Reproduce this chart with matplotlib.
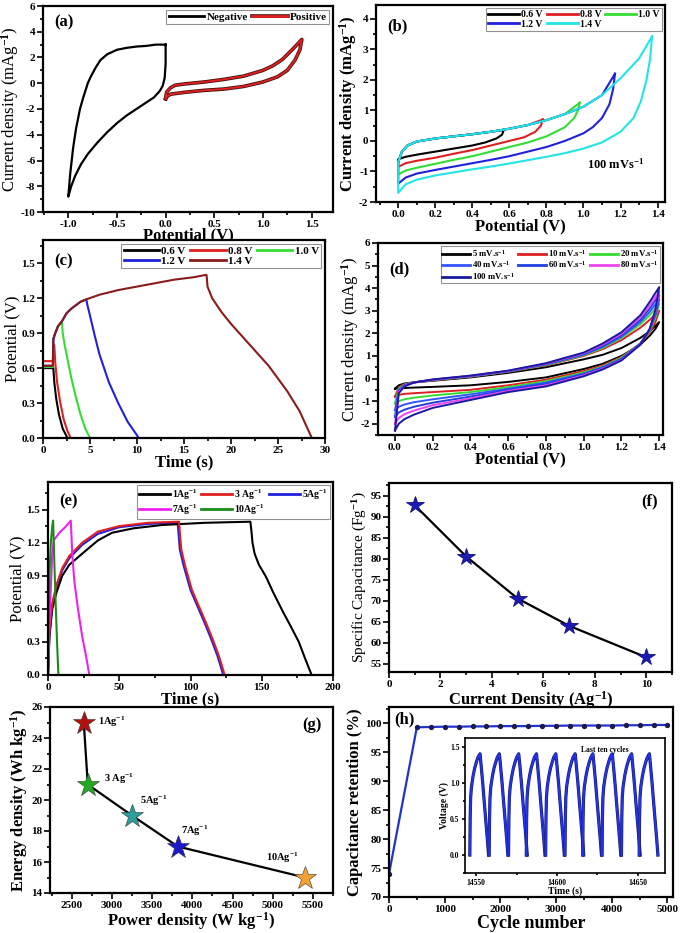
import numpy as np
import matplotlib
matplotlib.use('Agg')
import matplotlib.pyplot as plt
from matplotlib.ticker import MultipleLocator, FormatStrFormatter
import matplotlib.patheffects as pe

plt.rcParams['font.family'] = 'Liberation Serif'
plt.rcParams['font.weight'] = 'bold'
plt.rcParams['axes.labelweight'] = 'bold'
plt.rcParams['mathtext.fontset'] = 'custom'
plt.rcParams['mathtext.rm'] = 'Liberation Serif:bold'
plt.rcParams['mathtext.bf'] = 'Liberation Serif:bold'
plt.rcParams['mathtext.it'] = 'Liberation Serif:bold:italic'
plt.rcParams['axes.unicode_minus'] = False

# ---------------- data ----------------
# (a) CV of negative / positive electrodes
neg_loop = [(0.0, 3.0), (-0.1, 3.0), (-0.2, 2.9), (-0.3, 2.85), (-0.4, 2.75), (-0.5, 2.6),
            (-0.6, 2.25), (-0.67, 1.8), (-0.72, 1.2), (-0.77, 0.5), (-0.8, 0.0), (-0.85, -1.2),
            (-0.88, -2.0), (-0.92, -3.5), (-0.95, -5.0), (-0.98, -7.0), (-1.0, -8.8), (-0.97, -8.0),
            (-0.93, -7.2), (-0.87, -6.3), (-0.8, -5.5), (-0.7, -4.6), (-0.6, -3.8), (-0.5, -3.1),
            (-0.4, -2.5), (-0.3, -2.0), (-0.2, -1.5), (-0.12, -1.1), (-0.06, -0.6), (-0.03, -0.2),
            (-0.01, 0.4), (0.0, 1.5), (0.0, 3.0)]
pos_loop = [(0.0, -1.2), (0.01, -0.7), (0.05, -0.35), (0.1, -0.15), (0.2, -0.05), (0.4, 0.1),
            (0.6, 0.3), (0.8, 0.55), (1.0, 1.0), (1.1, 1.35), (1.2, 1.85), (1.3, 2.6), (1.4, 3.4),
            (1.38, 2.6), (1.33, 1.8), (1.25, 1.0), (1.15, 0.5), (1.0, 0.1), (0.8, -0.25),
            (0.6, -0.45), (0.4, -0.55), (0.2, -0.7), (0.05, -0.85), (0.02, -1.0), (0.0, -1.2)]

# (b) CV at different potential windows
b_labels = ['0.6 V', '0.8 V', '1.0 V', '1.2 V', '1.4 V']
b_colors = ['black', '#e02020', '#33dd33', '#2020dd', '#22e5e5']
b_upper = [(0.0, -0.7), (0.02, -0.35), (0.05, -0.15), (0.1, -0.02), (0.2, 0.08), (0.3, 0.15),
           (0.4, 0.22), (0.5, 0.3), (0.6, 0.4), (0.7, 0.52), (0.8, 0.68), (0.9, 0.88),
           (1.0, 1.12), (1.1, 1.5), (1.2, 2.05), (1.3, 2.7)]
b_lower = [
    [(0.57, 0.36), (0.56, 0.2), (0.53, 0.08), (0.47, -0.05), (0.4, -0.15), (0.3, -0.25),
     (0.2, -0.35), (0.1, -0.45), (0.04, -0.52), (0.0, -0.6)],
    [(0.78, 0.7), (0.77, 0.5), (0.74, 0.3), (0.68, 0.12), (0.6, 0.0), (0.5, -0.15), (0.4, -0.3),
     (0.3, -0.42), (0.2, -0.55), (0.1, -0.65), (0.04, -0.73), (0.0, -0.85)],
    [(0.98, 1.25), (0.97, 1.0), (0.95, 0.75), (0.9, 0.45), (0.8, 0.15), (0.7, -0.05), (0.6, -0.2),
     (0.5, -0.35), (0.4, -0.5), (0.3, -0.62), (0.2, -0.75), (0.1, -0.88), (0.04, -0.97), (0.0, -1.1)],
    [(1.17, 2.2), (1.16, 1.7), (1.14, 1.2), (1.1, 0.75), (1.05, 0.45), (1.0, 0.25), (0.9, 0.0),
     (0.8, -0.2), (0.7, -0.35), (0.6, -0.5), (0.5, -0.62), (0.4, -0.73), (0.3, -0.84), (0.2, -0.95),
     (0.1, -1.07), (0.04, -1.2), (0.0, -1.4)],
    [(1.37, 3.42), (1.36, 2.7), (1.34, 2.0), (1.31, 1.3), (1.27, 0.75), (1.2, 0.3), (1.1, -0.05),
     (1.0, -0.25), (0.9, -0.4), (0.8, -0.52), (0.7, -0.63), (0.6, -0.74), (0.5, -0.84), (0.4, -0.93),
     (0.3, -1.03), (0.2, -1.13), (0.1, -1.27), (0.04, -1.42), (0.0, -1.7)],
]

# (c) GCD at different potential windows
c_labels = ['0.6 V', '0.8 V', '1.0 V', '1.2 V', '1.4 V']
c_colors = ['black', '#e02020', '#33dd33', '#2020dd', '#8b1c1c']
c_curves = [
    [(0, 0.6), (1.05, 0.6), (1.1, 0.6), (1.2, 0.48), (1.4, 0.34), (1.7, 0.2), (2.1, 0.08), (2.6, 0.0)],
    [(0, 0.66), (1.05, 0.66), (1.1, 0.78), (1.2, 0.8), (1.3, 0.65), (1.5, 0.48), (1.8, 0.32),
     (2.2, 0.16), (2.6, 0.06), (2.95, 0.0)],
    [(0, 0.61), (1.05, 0.61), (1.1, 0.85), (1.3, 0.9), (1.6, 0.96), (2.0, 1.0), (2.1, 0.9), (2.3, 0.8),
     (2.6, 0.68), (3.0, 0.52), (3.5, 0.35), (4.0, 0.2), (4.5, 0.08), (5.0, 0.0)],
    [(0, 0.62), (1.05, 0.62), (1.1, 0.85), (1.3, 0.9), (1.6, 0.96), (2.0, 1.0), (2.5, 1.07), (3.0, 1.11),
     (3.5, 1.14), (4.0, 1.17), (4.6, 1.19), (4.7, 1.15), (5.0, 1.05), (5.5, 0.88), (6.0, 0.72),
     (7.0, 0.48), (8.0, 0.3), (9.0, 0.14), (10.2, 0.0)],
    [(0, 0.62), (1.05, 0.62), (1.1, 0.85), (1.3, 0.9), (1.6, 0.96), (2.0, 1.0), (2.5, 1.07), (3.0, 1.11),
     (4.0, 1.17), (4.6, 1.19), (6, 1.23), (8, 1.27), (10, 1.3), (12, 1.33), (14, 1.36), (16, 1.38),
     (17.3, 1.4), (17.4, 1.4), (17.5, 1.3), (18, 1.2), (19, 1.08), (20, 0.98), (22, 0.8), (24, 0.62),
     (26, 0.4), (27.3, 0.23), (28.6, 0.0)],
]

# (d) CV at different scan rates
d_labels = ['5 mV.s$^{-1}$', '10 mV.s$^{-1}$', '20 mV.s$^{-1}$', '40 mV.s$^{-1}$',
            '60 mV.s$^{-1}$', '80 mV.s$^{-1}$', '100 mV.s$^{-1}$']
d_colors = ['black', '#dd2020', '#33dd33', '#3355ff', '#2040e0', '#ee44ee', '#1a1aa0']
d_up_x = [0.0, 0.02, 0.05, 0.1, 0.2, 0.4, 0.6, 0.8, 1.0, 1.1, 1.2, 1.3, 1.35, 1.4]
d_up_y = [
    [-0.45, -0.3, -0.22, -0.17, -0.1, 0.05, 0.25, 0.5, 0.85, 1.05, 1.35, 1.8, 2.1, 2.5],
    [-0.8, -0.4, -0.25, -0.17, -0.08, 0.08, 0.3, 0.58, 1.0, 1.3, 1.7, 2.25, 2.6, 3.0],
    [-1.1, -0.45, -0.27, -0.17, -0.07, 0.09, 0.31, 0.6, 1.03, 1.35, 1.8, 2.4, 2.8, 3.3],
    [-1.4, -0.5, -0.29, -0.17, -0.06, 0.1, 0.32, 0.62, 1.06, 1.4, 1.85, 2.5, 2.95, 3.5],
    [-1.7, -0.55, -0.31, -0.17, -0.05, 0.11, 0.33, 0.64, 1.09, 1.45, 1.92, 2.6, 3.1, 3.7],
    [-2.0, -0.6, -0.33, -0.18, -0.05, 0.12, 0.34, 0.66, 1.12, 1.5, 1.98, 2.7, 3.25, 3.85],
    [-2.3, -0.65, -0.35, -0.18, -0.04, 0.13, 0.35, 0.68, 1.15, 1.55, 2.05, 2.8, 3.4, 4.05],
]
d_lo_x = [1.4, 1.38, 1.35, 1.3, 1.2, 1.1, 1.0, 0.8, 0.6, 0.4, 0.2, 0.1, 0.05, 0.02, 0.0]
d_lo_y = [
    [2.5, 2.2, 1.9, 1.5, 1.0, 0.65, 0.42, 0.05, -0.15, -0.3, -0.37, -0.4, -0.42, -0.44, -0.45],
    [3.0, 2.5, 2.05, 1.55, 0.95, 0.58, 0.33, -0.05, -0.3, -0.5, -0.6, -0.65, -0.68, -0.72, -0.8],
    [3.3, 2.7, 2.1, 1.55, 0.92, 0.53, 0.27, -0.12, -0.38, -0.6, -0.75, -0.85, -0.92, -1.0, -1.1],
    [3.5, 2.8, 2.15, 1.55, 0.88, 0.5, 0.22, -0.18, -0.45, -0.7, -0.92, -1.05, -1.15, -1.25, -1.4],
    [3.7, 2.9, 2.2, 1.52, 0.85, 0.46, 0.18, -0.24, -0.5, -0.8, -1.07, -1.25, -1.38, -1.5, -1.7],
    [3.85, 3.0, 2.2, 1.5, 0.82, 0.43, 0.14, -0.3, -0.55, -0.88, -1.18, -1.42, -1.58, -1.75, -2.0],
    [4.05, 3.05, 2.2, 1.5, 0.8, 0.4, 0.1, -0.35, -0.6, -0.95, -1.3, -1.6, -1.8, -2.0, -2.3],
]

# (e) GCD at different current densities
e_labels = ['1Ag$^{-1}$', '3 Ag$^{-1}$', '5Ag$^{-1}$', '7Ag$^{-1}$', '10Ag$^{-1}$']
e_colors = ['black', '#e02020', '#2020dd', '#ee22ee', '#1a8c1a']
e_curves = [
    [(0, 0), (1, 0.35), (3, 0.6), (6, 0.75), (10, 0.9), (15, 1.0), (24, 1.1), (35, 1.22), (45, 1.29),
     (60, 1.33), (80, 1.36), (110, 1.38), (142, 1.39), (142.8, 1.3), (143.5, 1.2), (145, 1.1),
     (148, 1.0), (153, 0.89), (158, 0.75), (165, 0.57), (170, 0.45), (176, 0.3), (181, 0.13),
     (185, 0.0)],
    [(0, 0), (1, 0.4), (3, 0.65), (6, 0.82), (10, 0.97), (15, 1.08), (24, 1.2), (35, 1.3), (50, 1.35),
     (70, 1.38), (92, 1.39), (92.5, 1.3), (93.5, 1.14), (96, 1.0), (101, 0.77), (106, 0.62),
     (111, 0.47), (116, 0.31), (120, 0.17), (124, 0.0)],
    [(0, 0), (1, 0.38), (3, 0.63), (6, 0.8), (10, 0.95), (15, 1.06), (24, 1.18), (35, 1.28), (50, 1.34),
     (70, 1.37), (91, 1.38), (91.5, 1.3), (92.5, 1.14), (95, 1.0), (100, 0.77), (105, 0.62),
     (110, 0.47), (115, 0.31), (119, 0.17), (123, 0.0)],
    [(0, 0), (1, 0.5), (2, 0.8), (3, 1.1), (4, 1.22), (8, 1.29), (12, 1.34), (16, 1.4), (17, 1.1),
     (18.5, 0.85), (21, 0.6), (24, 0.35), (27, 0.15), (29, 0.0)],
    [(0, 0), (0.5, 0.5), (1, 0.9), (2, 1.2), (3, 1.35), (3.6, 1.4), (4.5, 1.0), (5.5, 0.6),
     (6.5, 0.25), (7.3, 0.0)],
]

# (f) specific capacitance
f_current = [1, 3, 5, 7, 10]
f_capacitance = [92.7, 80.5, 70.5, 64.0, 56.5]

# (g) Ragone plot
g_power = [2650, 2700, 3250, 3820, 5400]
g_energy = [25, 21, 19, 17, 15]
g_labels = ['1Ag$^{-1}$', '3 Ag$^{-1}$', '5Ag$^{-1}$', '7Ag$^{-1}$', '10Ag$^{-1}$']
g_colors = ['#b01010', '#22aa22', '#2a9d9d', '#1a1acc', '#f5a030']

# (h) cycling stability
h_cycles = [0, 500, 750, 1000, 1250, 1500, 1750, 2000, 2250, 2500, 2750, 3000, 3250, 3500,
            3750, 4000, 4250, 4500, 4750, 5000]
h_retention = [74, 99.3, 99.35, 99.4, 99.4, 99.45, 99.45, 99.5, 99.5, 99.5, 99.55, 99.55,
               99.6, 99.6, 99.6, 99.6, 99.65, 99.65, 99.7, 99.7]
# inset: last ten cycles (one cycle shape and start time of each cycle)
cyc_t = [0, 0.2, 0.5, 1.0, 2.0, 3.0, 4.0, 5.0, 6.3, 7.0, 8.0, 9.0, 10.0, 11.0, 11.6]
cyc_v = [0.0, 0.5, 0.8, 0.95, 1.1, 1.21, 1.29, 1.36, 1.41, 1.25, 1.0, 0.72, 0.45, 0.18, 0.0]
cyc_start = [14546, 14558, 14570, 14581, 14593, 14605, 14616, 14628, 14640, 14651]


def style(ax, xmaj, ymaj, xfmt, yfmt, ls=8):
    ax.xaxis.set_major_locator(MultipleLocator(xmaj))
    ax.xaxis.set_minor_locator(MultipleLocator(xmaj / 2))
    ax.yaxis.set_major_locator(MultipleLocator(ymaj))
    ax.yaxis.set_minor_locator(MultipleLocator(ymaj / 2))
    ax.xaxis.set_major_formatter(FormatStrFormatter(xfmt))
    ax.yaxis.set_major_formatter(FormatStrFormatter(yfmt))
    ax.tick_params(which='both', direction='out', width=1.2, labelsize=ls, pad=1.5)
    ax.tick_params(which='major', length=4)
    ax.tick_params(which='minor', length=2)
    for s in ax.spines.values():
        s.set_linewidth(1.6)


def row_order(n, ncol):
    # matplotlib fills legend columns first; reorder so entries read row by row
    nrow = -(-n // ncol)
    return [r * ncol + c for c in range(ncol) for r in range(nrow) if r * ncol + c < n]


def leg(ax, handles, labels, ncol, fs=7):
    idx = row_order(len(handles), ncol)
    l = ax.legend([handles[i] for i in idx], [labels[i] for i in idx], loc='upper right',
                  ncol=ncol, fontsize=fs, handlelength=3.2, handletextpad=0.2,
                  columnspacing=0.4, labelspacing=0.05, borderpad=0.2, borderaxespad=0.35,
                  fancybox=False, frameon=True)
    l.get_frame().set_edgecolor('#777777')
    l.get_frame().set_linewidth(0.8)
    for h in l.get_lines():
        h.set_linewidth(2.0)
    return l


W, H = 685, 933
fig = plt.figure(figsize=(6.85, 9.33), dpi=100)


def add_ax(x0, y0, x1, y1):
    return fig.add_axes([x0 / W, 1 - y1 / H, (x1 - x0) / W, (y1 - y0) / H])


# ---------------- (a) ----------------
ax = add_ax(43, 6, 333, 212)
na = np.array(neg_loop)
pa = np.array(pos_loop)
ha, = ax.plot(na[:, 0], na[:, 1], color='black', lw=1.6)
hb, = ax.plot(pa[:, 0], pa[:, 1], color='#e02020', lw=1.4,
              path_effects=[pe.Stroke(linewidth=2.6, foreground='#401010'), pe.Normal()])
ax.set_xlim(-1.26, 1.72)
ax.set_ylim(-10, 6)
style(ax, 0.5, 2, '%.1f', '%d')
ax.set_xlabel('Potential (V)', fontsize=12, labelpad=-1)
ax.set_ylabel('Current density (mAg$^{-1}$)', fontsize=12, fontweight='normal', labelpad=0)
leg(ax, [ha, hb], ['Negative', 'Positive'], 2, 8)
ax.text(0.04, 0.9, '(a)', transform=ax.transAxes, fontsize=12, fontweight='bold')

# ---------------- (b) ----------------
ax = add_ax(376, 5, 665, 202)
hs = []
for col, low in zip(b_colors, b_lower):
    vx, vy = low[0]
    up = [p for p in b_upper if p[0] < vx]
    loop = np.array(low + up + [low[0]])
    h, = ax.plot(loop[:, 0], loop[:, 1], color=col, lw=1.5)
    hs.append(h)
ax.set_xlim(-0.12, 1.44)
ax.set_ylim(-2, 4.45)
style(ax, 0.2, 1, '%.1f', '%d')
ax.set_xlabel('Potential (V)', fontsize=12, labelpad=0)
ax.set_ylabel('Current density (mAg$^{-1}$)', fontsize=12, labelpad=0)
leg(ax, hs, b_labels, 3, 7)
ax.text(0.04, 0.87, '(b)', transform=ax.transAxes, fontsize=12, fontweight='bold')
ax.text(0.73, 0.17, '100 mVs$^{-1}$', transform=ax.transAxes, fontsize=9, fontweight='bold')

# ---------------- (c) ----------------
ax = add_ax(43, 240, 325, 438)
hs = []
for col, cur in zip(c_colors, c_curves):
    cc = np.array(cur)
    h, = ax.plot(cc[:, 0], cc[:, 1], color=col, lw=1.5)
    hs.append(h)
ax.set_xlim(0, 30)
ax.set_ylim(0, 1.7)
style(ax, 5, 0.3, '%d', '%.1f')
ax.set_xlabel('Time (s)', fontsize=12, labelpad=0)
ax.set_ylabel('Potential (V)', fontsize=12, fontweight='normal', labelpad=1)
leg(ax, hs, c_labels, 3, 8)
ax.text(0.04, 0.87, '(c)', transform=ax.transAxes, fontsize=12, fontweight='bold')

# ---------------- (d) ----------------
ax = add_ax(378, 243, 663, 435)
hs = []
for col, uy, ly in zip(d_colors, d_up_y, d_lo_y):
    h, = ax.plot(d_up_x + d_lo_x, uy + ly, color=col, lw=1.4)
    hs.append(h)
ax.set_xlim(-0.09, 1.42)
ax.set_ylim(-2.5, 6)
style(ax, 0.2, 1, '%.1f', '%d')
ax.set_xlabel('Potential (V)', fontsize=12, labelpad=0)
ax.set_ylabel('Current density (mAg$^{-1}$)', fontsize=12, fontweight='normal', labelpad=0)
leg(ax, hs, d_labels, 3, 6.3)
ax.text(0.04, 0.84, '(d)', transform=ax.transAxes, fontsize=12, fontweight='bold')

# ---------------- (e) ----------------
ax = add_ax(48, 482, 333, 675)
hs = [None] * 5
for i in [2, 0, 1, 3, 4]:
    cc = np.array(e_curves[i])
    hs[i], = ax.plot(cc[:, 0], cc[:, 1], color=e_colors[i], lw=1.5)
ax.set_xlim(0, 200)
ax.set_ylim(0, 1.75)
style(ax, 50, 0.3, '%d', '%.1f')
ax.set_xlabel('Time (s)', fontsize=12, labelpad=0)
ax.set_ylabel('Potential (V)', fontsize=12, fontweight='normal', labelpad=1)
leg(ax, hs, e_labels, 3, 7)
ax.text(0.04, 0.88, '(e)', transform=ax.transAxes, fontsize=12, fontweight='bold')

# ---------------- (f) ----------------
ax = add_ax(389, 483, 672, 672)
ax.plot(f_current, f_capacitance, color='black', lw=1.6)
ax.plot(f_current, f_capacitance, linestyle='none', marker='*', ms=13, color='#1a1ab4',
        markeredgecolor='#10107a', markeredgewidth=0.6)
ax.set_xlim(0, 11)
ax.set_ylim(53, 98)
style(ax, 2, 5, '%d', '%d')
ax.set_xlabel('Current Density (Ag$^{-1}$)', fontsize=12, labelpad=0)
ax.set_ylabel('Specific Capacitance (Fg$^{-1}$)', fontsize=11, fontweight='normal', labelpad=1)
ax.text(0.89, 0.88, '(f)', transform=ax.transAxes, fontsize=12, fontweight='bold')

# ---------------- (g) ----------------
ax = add_ax(50, 707, 333, 893)
ax.plot(g_power, g_energy, color='black', lw=1.6)
offs = [(10, -2), (12, 2), (6, 8), (2, 9), (-28, 12)]
for xv, yv, col, lab, off in zip(g_power, g_energy, g_colors, g_labels, offs):
    ax.plot([xv], [yv], linestyle='none', marker='*', ms=17, color=col,
            markeredgecolor='#333333', markeredgewidth=0.4)
    ax.annotate(lab, (xv, yv), xytext=off, textcoords='offset points', fontsize=7.5,
                fontweight='bold')
ax.set_xlim(2230, 5750)
ax.set_ylim(14, 26)
style(ax, 500, 2, '%d', '%d')
ax.set_xlabel('Power density (W kg$^{-1}$)', fontsize=12, labelpad=0)
ax.set_ylabel('Energy density (Wh kg$^{-1}$)', fontsize=12, labelpad=1)
ax.text(0.89, 0.88, '(g)', transform=ax.transAxes, fontsize=12, fontweight='bold')

# ---------------- (h) ----------------
ax = add_ax(389, 707, 673, 897)
ax.plot(h_cycles, h_retention, color='#2233cc', lw=1.6, marker='o', ms=2.8,
        markerfacecolor='#1a1a50', markeredgecolor='#1a1a50')
ax.set_xlim(0, 5100)
ax.set_ylim(70, 102.8)
style(ax, 1000, 5, '%d', '%d')
ax.set_xlabel('Cycle number', fontsize=13, labelpad=1)
ax.set_ylabel('Capacitance retention (%)', fontsize=12, labelpad=1)
ax.text(0.02, 0.915, '(h)', transform=ax.transAxes, fontsize=12, fontweight='bold')

ins = add_ax(465, 738, 665, 873)
for t0 in cyc_start:
    ins.plot([t0 + t for t in cyc_t], cyc_v, color='#2233ee', lw=1.5,
             path_effects=[pe.Stroke(linewidth=2.3, foreground='#1a1a60'), pe.Normal()])
ins.set_xlim(14543, 14667)
ins.set_ylim(-0.25, 1.63)
style(ins, 50, 0.5, '%d', '%.1f', ls=5.5)
ins.tick_params(which='major', length=2.5)
ins.tick_params(which='minor', length=1.5)
for s in ins.spines.values():
    s.set_linewidth(1.2)
ins.set_xlabel('Time (s)', fontsize=7, labelpad=0)
ins.set_ylabel('Voltage (V)', fontsize=7, labelpad=1)
ins.text(0.7, 0.9, 'Last ten cycles', transform=ins.transAxes, fontsize=5.5, fontweight='bold',
         ha='center')

fig.savefig('out.png', dpi=100)
